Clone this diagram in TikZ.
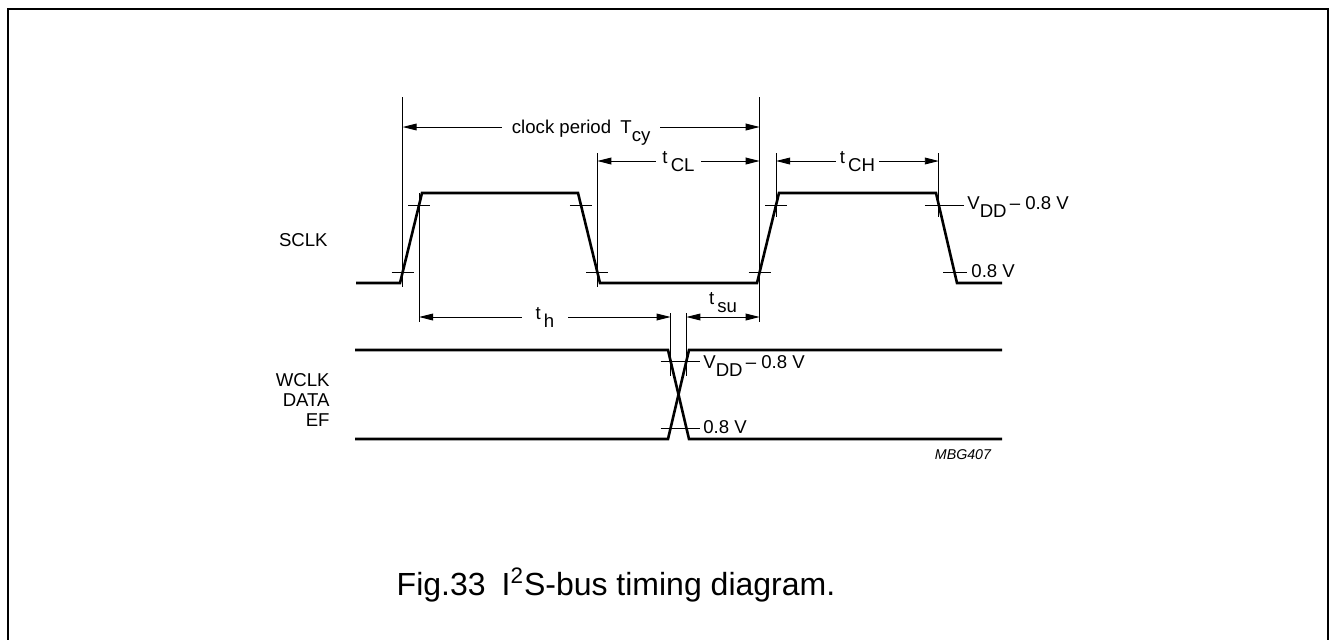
\documentclass[tikz,border=0pt]{standalone}
\usepackage{fontspec}
\setmainfont{Liberation Sans}
\usetikzlibrary{calc, arrows.meta}

\newcommand{\lowtxt}[1]{\raisebox{-0.85ex}{#1}}

\begin{document}
\begin{tikzpicture}[x=0.5pt, y=-0.5pt,
    wave/.style={line width=1.3pt},
    guide/.style={line width=0.45pt},
    dim/.style={line width=0.45pt, {Triangle[length=7pt,width=3.4pt]}-{Triangle[length=7pt,width=3.4pt]}},
    lbl/.style={font=\fontsize{9.3}{9.8}\selectfont, inner sep=0pt},
    cutlbl/.style={lbl, fill=white, inner xsep=#1},
  ]
  \useasboundingbox (0,0) rectangle (1329,639);

  % cornice
  \draw[line width=1pt] (8,660) -- (8,9) -- (1328,9) -- (1328,660);

  % livelli
  \coordinate (yTcy) at (0,127);
  \coordinate (yCL) at (0,161);
  \coordinate (yh) at (0,317);

  % SCLK
  \coordinate (s0) at (356,283);
  \coordinate (r1a) at (400,283);
  \coordinate (r1b) at (422,193);
  \coordinate (f1a) at (578,193);
  \coordinate (f1b) at (600,283);
  \coordinate (r2a) at (757,283);
  \coordinate (r2b) at (779,193);
  \coordinate (f2a) at (936,193);
  \coordinate (f2b) at (957,283);
  \coordinate (s1) at (1002,283);
  \draw[wave] (s0) -- (r1a) -- (r1b) -- (f1a) -- (f1b) -- (r2a) -- (r2b) -- (f2a) -- (f2b) -- (s1);

  \coordinate (r1lo) at ($(r1a)!0.122!(r1b)$);
  \coordinate (r1hi) at ($(r1a)!0.867!(r1b)$);
  \coordinate (f1hi) at ($(f1a)!0.133!(f1b)$);
  \coordinate (f1lo) at ($(f1a)!0.878!(f1b)$);
  \coordinate (r2lo) at ($(r2a)!0.122!(r2b)$);
  \coordinate (r2hi) at ($(r2a)!0.867!(r2b)$);
  \coordinate (f2hi) at ($(f2a)!0.133!(f2b)$);
  \coordinate (f2lo) at ($(f2a)!0.878!(f2b)$);

  \foreach \c in {r1lo,r1hi,f1hi,f1lo,r2lo,r2hi}
    \draw[guide] ($(\c)+(-11,0)$) -- ($(\c)+(11,0)$);
  \draw[guide] ($(f2hi)+(-14,0)$) -- ($(f2hi)+(25,0)$);
  \draw[guide] ($(f2lo)+(-11,0)$) -- ($(f2lo)+(13,0)$);

  \node[lbl, anchor=base west] (vhi) at (967,209) {V\lowtxt{DD}\,– 0.8 V};
  \node[lbl, anchor=base west] (vlo) at (971,277) {0.8 V};
  \node[lbl, anchor=base east] (sclk) at (328,246) {SCLK};

  % riferimenti
  \draw[guide] (r1lo |- 0,97) -- ($(r1lo)+(0,15)$);
  \draw[guide] (r2lo |- 0,97) -- (r2lo |- yh) -- ++(0,5);
  \draw[guide] (f1lo |- 0,153) -- ($(f1lo)+(0,15)$);
  \draw[guide] (r1hi |- r1b) -- (r1hi |- yh) -- ++(0,5);
  \draw[guide] (r2hi |- 0,153) -- (r2hi |- 0,217);
  \draw[guide] (f2hi |- 0,153) -- (f2hi |- 0,217);

  % quote
  \draw[dim] (r1lo |- yTcy) -- (r2lo |- yTcy)
    node[midway, cutlbl=5pt, anchor=base, yshift=-3pt] (tcy) {clock period\enspace T\lowtxt{cy}};
  \draw[dim] (f1lo |- yCL) -- (r2lo |- yCL)
    node[midway, cutlbl=3pt, anchor=base, yshift=-1pt] (tcl) {t\,\lowtxt{CL}};
  \draw[dim] (r2hi |- yCL) -- (f2hi |- yCL)
    node[midway, cutlbl=2pt, anchor=base, yshift=-1pt] (tch) {t\,\lowtxt{CH}};

  % WCLK, DATA, EF
  \coordinate (d0) at (355,350);
  \coordinate (d1) at (668,350);
  \coordinate (d2) at (689,439);
  \coordinate (d3) at (1002,439);
  \coordinate (e0) at (355,439);
  \coordinate (e1) at (668,439);
  \coordinate (e2) at (689,350);
  \coordinate (e3) at (1002,350);
  \draw[wave] (d0) -- (d1) -- (d2) -- (d3);
  \draw[wave] (e0) -- (e1) -- (e2) -- (e3);

  \coordinate (dhi) at ($(d1)!0.124!(d2)$);
  \coordinate (ehi) at ($(e1)!0.876!(e2)$);
  \coordinate (elo) at ($(e1)!0.124!(e2)$);
  \coordinate (dlo) at ($(d1)!0.876!(d2)$);
  \draw[guide] ($(dhi)+(-10,0)$) -- ($(ehi)+(14,0)$);
  \draw[guide] ($(elo)+(-10,0)$) -- ($(dlo)+(14,0)$);
  \draw[guide] (dhi |- 0,313) -- (dhi |- 0,376);
  \draw[guide] (ehi |- 0,313) -- (ehi |- 0,376);

  \node[lbl, anchor=base west] (dvhi) at (703,368) {V\lowtxt{DD}\,– 0.8 V};
  \node[lbl, anchor=base west] (dvlo) at (703,433) {0.8 V};
  \node[lbl, anchor=east, align=right] (dlbl) at (330,400) {WCLK\\DATA\\EF};

  \draw[dim] (r1hi |- yh) -- (dhi |- yh)
    node[midway, cutlbl=7pt, anchor=base, yshift=-1pt] (th) {t\,\lowtxt{h}};
  \draw[dim] (ehi |- yh) -- (r2lo |- yh)
    node[midway, lbl, anchor=base, yshift=6.5pt] (tsu) {t\,\lowtxt{su}};

  % didascalia
  \node[font=\fontsize{7.1}{8}\selectfont\itshape] (code) at (963,455) {MBG407};
  \node[font=\fontsize{16}{18}\selectfont] (cap) at (616,585) {Fig.33\enspace I\textsuperscript{2}S-bus timing diagram.};
\end{tikzpicture}
\end{document}
